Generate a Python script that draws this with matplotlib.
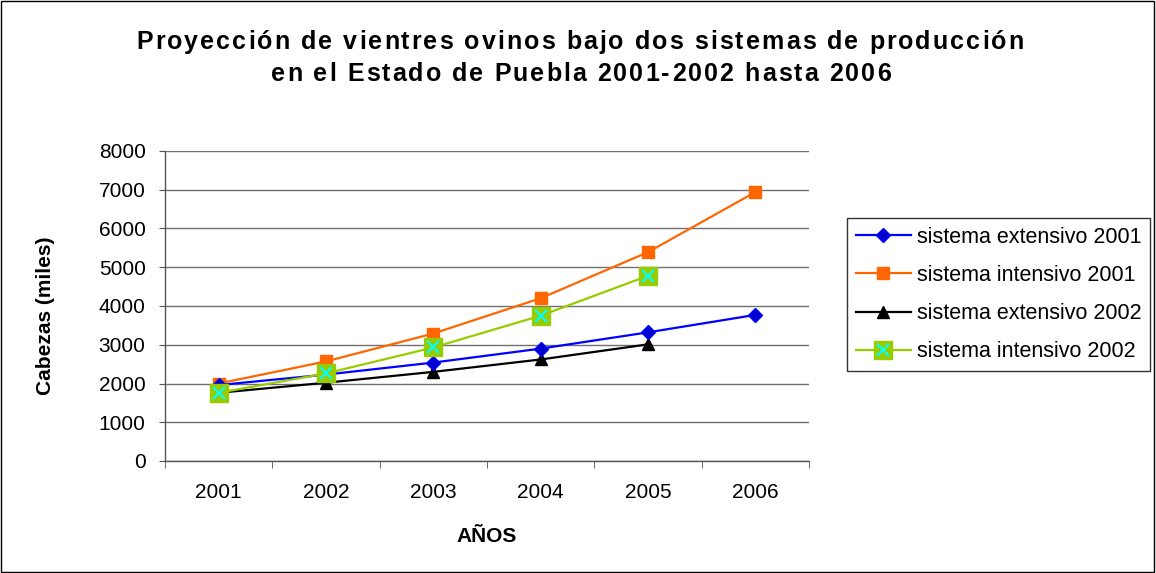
import matplotlib
matplotlib.use("Agg")
import matplotlib.pyplot as plt
from matplotlib.patches import Rectangle
from matplotlib.legend_handler import HandlerTuple
from matplotlib.font_manager import FontProperties, findfont, get_font

plt.rcParams["font.family"] = ["Liberation Sans", "DejaVu Sans"]

# === DATA ===
anios = ["2001", "2002", "2003", "2004", "2005", "2006"]
extensivo_2001 = [1960, 2230, 2540, 2900, 3320, 3770]
intensivo_2001 = [2000, 2570, 3290, 4200, 5390, 6940]
extensivo_2002 = [1760, 2020, 2300, 2620, 3010]
intensivo_2002 = [1760, 2260, 2930, 3750, 4780]

titulo = ["Proyección de vientres ovinos bajo dos sistemas de producción",
          "en el Estado de Puebla 2001-2002 hasta 2006"]

W, H, DPI = 1156, 573, 100
fig = plt.figure(figsize=(W / DPI, H / DPI), dpi=DPI)
ax = fig.add_axes([165 / W, 1 - 461 / H, 644 / W, 310 / H])

x_all = list(range(len(anios)))

l1, = ax.plot(x_all, extensivo_2001, color="#0000FF", lw=1.6, marker="D",
              ms=7, mfc="#0000CC", mec="#0000FF", zorder=4)
l2, = ax.plot(x_all, intensivo_2001, color="#FF6600", lw=1.6, marker="s",
              ms=8.5, mfc="#FF6600", mec="#FF6600", zorder=3)
l3, = ax.plot(x_all[:len(extensivo_2002)], extensivo_2002, color="black",
              lw=1.6, marker="^", ms=9, zorder=3)
l4a, = ax.plot(x_all[:len(intensivo_2002)], intensivo_2002, color="#99CC00",
               lw=1.6, marker="s", ms=13.5, mfc="#99CC00", mec="#99CC00", zorder=5)
l4b, = ax.plot(x_all[:len(intensivo_2002)], intensivo_2002, ls="none",
               marker="x", ms=8.5, mew=1.6, color="#00FFFF", zorder=6)

# === AXES ===
ax.set_xlim(-0.5, len(anios) - 0.5)
ax.set_ylim(0, 8000)
ax.set_yticks(range(0, 8001, 1000))
ax.set_xticks(x_all)
ax.set_xticklabels(anios)
ax.set_xticks([i - 0.5 for i in range(len(anios) + 1)], minor=True)
ax.tick_params(axis="x", which="major", length=0, pad=16, labelsize=15)
ax.tick_params(axis="x", which="minor", length=5, color="#555555")
ax.tick_params(axis="y", length=4, color="#555555", pad=10, labelsize=15)
ax.grid(axis="y", color="#707070", lw=1)
ax.set_axisbelow(True)
for s in ["top", "right"]:
    ax.spines[s].set_visible(False)
for s in ["left", "bottom"]:
    ax.spines[s].set_color("#555555")
    ax.spines[s].set_linewidth(1)

ax.set_xlabel("AÑOS", fontsize=15, fontweight="bold")
ax.xaxis.set_label_coords(0.5, -0.213)
ax.set_ylabel("Cabezas (miles)", fontsize=15, fontweight="bold", va="center")
ax.yaxis.set_label_coords(-0.186, 0.47)


# title with a little extra letter spacing
def texto_espaciado(s, cx, base, size, track):
    fp = FontProperties(family="Liberation Sans", weight="bold", size=size)
    font = get_font(findfont(fp))
    font.set_size(size, 72)
    adv = [font.load_char(ord(c)).linearHoriAdvance / 65536 * DPI / 72 for c in s]
    total = sum(adv) + track * (len(s) - 1)
    x = cx - total / 2
    for c, a in zip(s, adv):
        fig.text(x / W, 1 - base / H, c, fontproperties=fp, ha="left", va="baseline")
        x += a + track


texto_espaciado(titulo[0], 580, 49, 18, 2.05)
texto_espaciado(titulo[1], 581, 81, 18, 2.05)

leg = fig.legend([l1, l2, l3, (l4a, l4b)],
                 ["sistema extensivo 2001", "sistema intensivo 2001",
                  "sistema extensivo 2002", "sistema intensivo 2002"],
                 handler_map={tuple: HandlerTuple(ndivide=1, pad=0)},
                 loc="upper left", bbox_to_anchor=(847 / W, 1 - 218 / H),
                 borderaxespad=0, fontsize=15.5, frameon=True, fancybox=False,
                 edgecolor="black", handlelength=2.56, labelspacing=0.8,
                 borderpad=0.4, handletextpad=0.3)
leg.get_frame().set_linewidth(1)

# outer frame
fig.patches.append(Rectangle((0.001, 0.002), 0.997, 0.996, transform=fig.transFigure,
                             fill=False, edgecolor="black", lw=1))

plt.savefig("out.png", dpi=DPI)
